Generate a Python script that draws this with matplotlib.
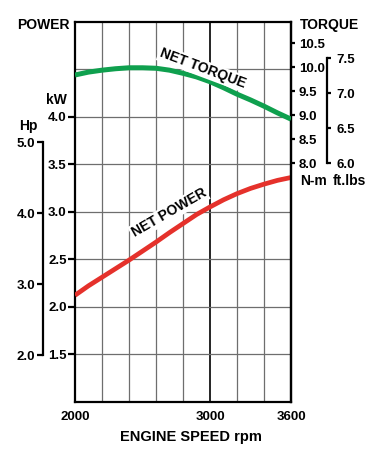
import matplotlib
matplotlib.use("Agg")
import matplotlib.pyplot as plt

plt.rcParams['font.family'] = ['Liberation Sans', 'DejaVu Sans']
plt.rcParams['font.weight'] = 'bold'

# ---- data ----
rpm_power = [2000, 2100, 2200, 2300, 2400, 2500, 2600, 2700, 2800,
             2900, 3000, 3100, 3200, 3300, 3400, 3500, 3600]
net_power_kw = [2.12, 2.22, 2.31, 2.40, 2.49, 2.585, 2.68, 2.78, 2.875,
                2.97, 3.05, 3.125, 3.19, 3.245, 3.29, 3.33, 3.36]

rpm_torque = rpm_power
net_torque_nm = [9.84, 9.90, 9.94, 9.97, 9.99, 9.99, 9.98, 9.94, 9.875,
                 9.80, 9.70, 9.575, 9.44, 9.32, 9.19, 9.05, 8.92]

x_ticks = [2000, 3000, 3600]
kw_ticks = [1.5, 2.0, 2.5, 3.0, 3.5, 4.0]
hp_ticks = [2.0, 3.0, 4.0, 5.0]
nm_ticks = [8.0, 8.5, 9.0, 9.5, 10.0, 10.5]
ftlb_ticks = [6.0, 6.5, 7.0, 7.5]
grid_rpm = [2200, 2400, 2600, 2800, 3000, 3200, 3400]
grid_kw = [1.5, 2.0, 2.5, 3.0, 3.5, 4.0, 4.5]

KW_PER_HP = 0.7457

GREEN = '#0fa04e'
RED = '#e5312b'
W, H = 380, 470

fig = plt.figure(figsize=(3.8, 4.7), dpi=100)
ax = fig.add_axes([75 / W, 1 - 401.7 / H, 216 / W, 380 / H])
ax.set_xlim(2000, 3600)
ax.set_ylim(1.0, 5.0)

# grid
for r in grid_rpm:
    if r == 3000:
        ax.axvline(r, color='black', lw=1.2, zorder=1)
    else:
        ax.axvline(r, color='#6e6e6e', lw=0.9, zorder=1)
for k in grid_kw:
    ax.axhline(k, color='#6e6e6e', lw=0.9, zorder=1)

for s in ax.spines.values():
    s.set_linewidth(1.6)
ax.set_xticks(x_ticks)
ax.set_xticklabels([str(v) for v in x_ticks])
ax.tick_params(axis='x', length=0, pad=7, labelsize=9.5)
ax.set_yticks(kw_ticks)
ax.set_yticklabels([f"{v:.1f}" for v in kw_ticks])
ax.tick_params(axis='y', direction='out', length=5, width=1.6, pad=1, labelsize=9.5)

ax.plot(rpm_power, net_power_kw, color=RED, lw=3.4, zorder=4,
        solid_capstyle='butt')

# Hp axis (left, offset)
ax_hp = ax.twinx()
ax_hp.set_ylim(1.0 / KW_PER_HP, 5.0 / KW_PER_HP)
for n in ['top', 'bottom', 'right']:
    ax_hp.spines[n].set_visible(False)
ax_hp.spines['left'].set_visible(True)
ax_hp.spines['left'].set_position(('outward', 23))
ax_hp.spines['left'].set_bounds(2.0, 5.0)
ax_hp.spines['left'].set_linewidth(1.6)
ax_hp.yaxis.tick_left()
ax_hp.set_yticks(hp_ticks)
ax_hp.set_yticklabels([f"{v:.1f}" for v in hp_ticks])
ax_hp.tick_params(axis='y', direction='out', length=4.5, width=1.6, pad=1, labelsize=9.5)

# Torque N-m axis (right spine)
ax_t = ax.twinx()
ax_t.set_ylim(3.033, 10.95)
for n in ['top', 'bottom', 'left']:
    ax_t.spines[n].set_visible(False)
ax_t.spines['right'].set_linewidth(1.6)
ax_t.set_yticks(nm_ticks)
ax_t.set_yticklabels([f"{v:.1f}" for v in nm_ticks])
ax_t.tick_params(axis='y', direction='out', length=3, width=1.6, pad=2.5, labelsize=9.5)
ax_t.plot(rpm_torque, net_torque_nm, color=GREEN, lw=3.6, zorder=4,
          solid_capstyle='butt')

# ft.lbs axis (right, offset)
ax_f = ax.twinx()
ax_f.set_ylim(2.594, 8.023)
for n in ['top', 'bottom', 'left']:
    ax_f.spines[n].set_visible(False)
ax_f.spines['right'].set_position(('outward', 25.7))
ax_f.spines['right'].set_bounds(6.0, 7.5)
ax_f.spines['right'].set_linewidth(1.6)
ax_f.set_yticks(ftlb_ticks)
ax_f.set_yticklabels([f"{v:.1f}" for v in ftlb_ticks])
ax_f.tick_params(axis='y', direction='out', length=3, width=1.6, pad=4, labelsize=9.5)

# curve labels
bb = dict(facecolor='white', edgecolor='none', pad=1.0)
ax_f.text(0.590, 0.877, 'NET TORQUE', transform=ax.transAxes, rotation=-20.5,
          ha='center', va='center', fontsize=10, fontweight='bold', bbox=bb,
          rotation_mode='anchor', zorder=5)
ax_f.text(0.435, 0.4966, 'NET POWER', transform=ax.transAxes, rotation=30,
          ha='center', va='center', fontsize=10, fontweight='bold', bbox=bb,
          rotation_mode='anchor', zorder=5)

# axis titles
def ftxt(x, y, s, ha='left', size=10):
    fig.text(x / W, 1 - y / H, s, ha=ha, va='center', fontsize=size,
             fontweight='bold')

ftxt(17, 25, 'POWER')
ftxt(67, 100, 'kW', ha='right')
ftxt(19, 126, 'Hp')
ftxt(300, 25, 'TORQUE')
ftxt(300, 181, 'N-m')
ftxt(333, 181, 'ft.lbs')
ftxt(191, 437, 'ENGINE SPEED rpm', ha='center', size=10.5)

fig.savefig('out.png', dpi=100)
